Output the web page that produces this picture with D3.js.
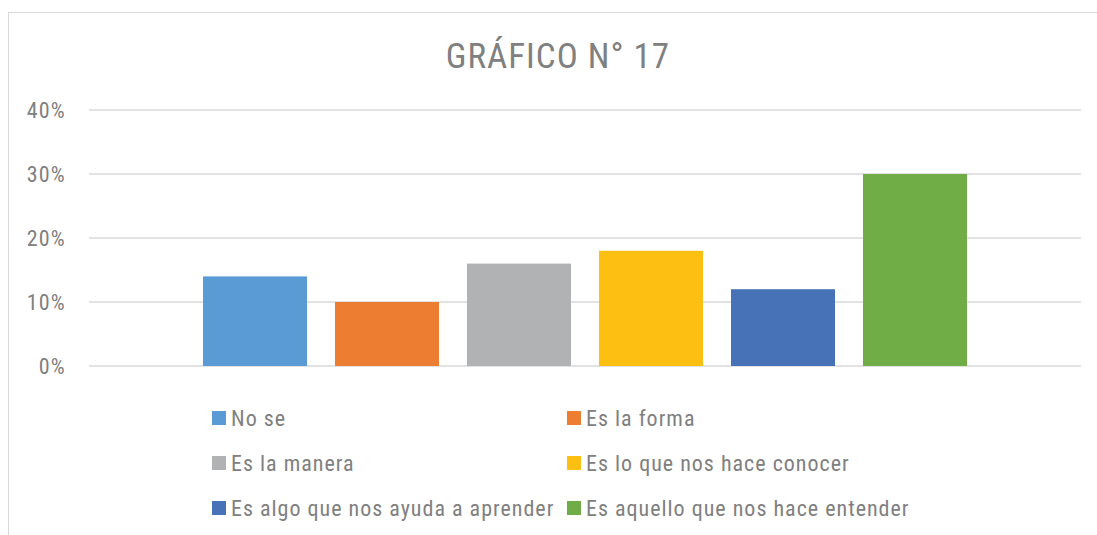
<!DOCTYPE html>
<html lang="es">
<head>
    <meta charset="UTF-8">
    <title>GRÁFICO N° 17</title>
    <script src="https://d3js.org/d3.v7.min.js"></script>
    <style>
        body { margin: 0; background: #fff; }
        text {
            font-family: "Liberation Sans Narrow", "Arial Narrow", "Roboto Condensed", "Liberation Sans", sans-serif;
            fill: #808080;
        }
    </style>
</head>
<body>
    <div id="chart"></div>
    <script>
        // chart values
        const series = ["No se", "Es la forma", "Es la manera", "Es lo que nos hace conocer",
                        "Es algo que nos ayuda a aprender", "Es aquello que nos hace entender"];
        const values = [0.14, 0.10, 0.16, 0.18, 0.12, 0.30];
        const colors = ["#5B9BD5", "#ED7D31", "#B1B2B3", "#FCBF12", "#4772B8", "#71AD46"];
        const yTicks = [0, 0.1, 0.2, 0.3, 0.4];
        const title = "GRÁFICO N° 17";

        const width = 1097, height = 535;
        const plot = { left: 89, right: 1081, top: 110, bottom: 366 };

        const svg = d3.select("#chart")
            .append("svg")
            .attr("width", width)
            .attr("height", height);

        // chart border
        svg.append("rect")
            .attr("x", 8.5).attr("y", 12.5)
            .attr("width", 1100).attr("height", 600)
            .attr("fill", "none")
            .attr("stroke", "#d9d9d9")
            .attr("stroke-width", 1);

        svg.append("text")
            .attr("x", 558)
            .attr("y", 68)
            .style("text-anchor", "middle")
            .style("font-size", "35px")
            .style("letter-spacing", "1px")
            .text(title);

        let y_scale = d3.scaleLinear().domain([0, 0.4]).range([plot.bottom, plot.top]);
        let x_scale = d3.scaleBand()
            .domain(series)
            .range([189, 981])
            .paddingInner(28 / 132)
            .paddingOuter(14 / 132);

        // gridlines
        svg.append("g")
            .selectAll("line")
            .data(yTicks)
            .enter().append("line")
            .attr("x1", plot.left)
            .attr("x2", plot.right)
            .attr("y1", d => y_scale(d))
            .attr("y2", d => y_scale(d))
            .attr("stroke", "#d9d9d9")
            .attr("stroke-width", 1.5);

        // y labels
        const yAxis = svg.append("g")
            .attr("transform", "translate(66,0)")
            .call(d3.axisLeft(y_scale).tickValues(yTicks).tickFormat(d3.format(".0%")).tickSize(0).tickPadding(0));
        yAxis.select(".domain").remove();
        yAxis.attr("font-family", null).attr("font-size", null);
        yAxis.selectAll("text")
            .attr("fill", "#808080")
            .style("font-size", "22px")
            .style("letter-spacing", "1.2px");

        // bars
        svg.selectAll("mybar")
            .data(series)
            .enter().append("rect")
            .attr("x", d => x_scale(d))
            .attr("y", (d, i) => y_scale(values[i]))
            .attr("width", x_scale.bandwidth())
            .attr("height", (d, i) => plot.bottom - y_scale(values[i]))
            .attr("fill", (d, i) => colors[i]);

        // legend, two columns
        const legendX = [212, 567];
        const legendY = [418, 463, 508];
        const legend = svg.selectAll(".legend")
            .data(series)
            .enter().append("g")
            .attr("class", "legend")
            .attr("transform", (d, i) => "translate(" + legendX[i % 2] + "," + legendY[Math.floor(i / 2)] + ")");
        legend.append("rect")
            .attr("x", 0).attr("y", -7)
            .attr("width", 14).attr("height", 14)
            .attr("fill", (d, i) => colors[i]);
        legend.append("text")
            .attr("x", 19)
            .attr("y", 8)
            .style("font-size", "22px")
            .style("letter-spacing", "1px")
            .text(d => d);
    </script>
</body>
</html>
